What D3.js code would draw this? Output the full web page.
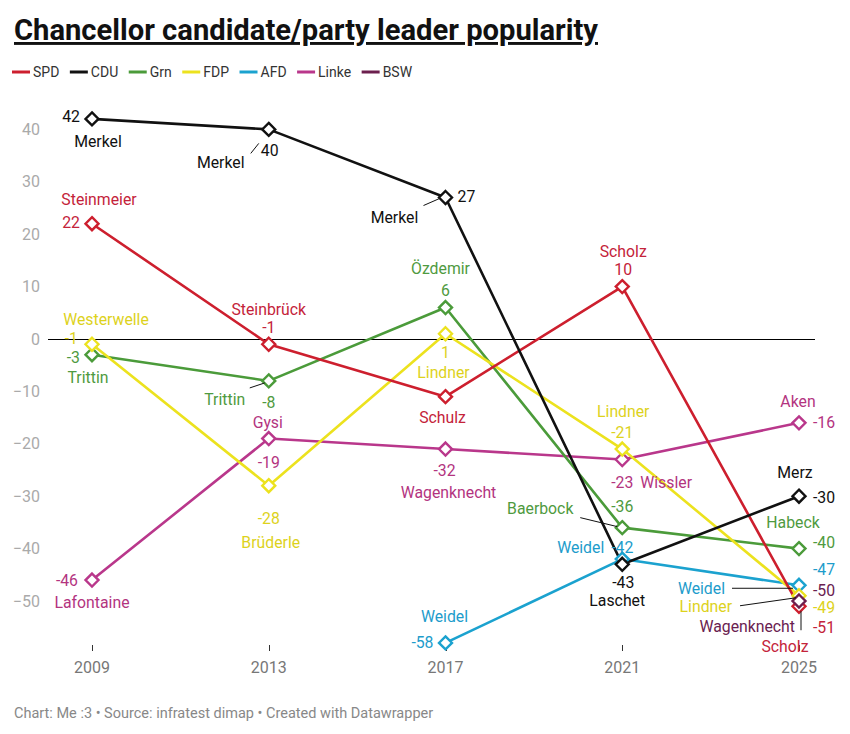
<!DOCTYPE html>
<html><head><meta charset="utf-8">
<script src="https://cdn.jsdelivr.net/npm/d3@7"></script>
<style>
body{margin:0;background:#fff;}
text{font-family:Roboto,"Noto Sans",sans-serif;}
</style>
</head><body>
<svg id="chart" width="850" height="734"></svg>
<script>
// ---------------- data ----------------
const years = [2009, 2013, 2017, 2021, 2025];
const yTicks = [40, 30, 20, 10, 0, -10, -20, -30, -40, -50];
const parties = ["SPD", "CDU", "Grn", "FDP", "AFD", "Linke", "BSW"];

const spd   = [22, -1, -11, 10, -51];
const cdu   = [42, 40, 27, -43, -30];
const grn   = [-3, -8, 6, -36, -40];
const fdp   = [-1, -28, 1, -21, -49];
const afd   = [null, null, -58, -42, -47];
const linke = [-46, -19, -21, -23, -16];
const bsw   = [null, null, null, null, -50];

const spdNames   = ["Steinmeier", "Steinbrück", "Schulz", "Scholz", "Scholz"];
const cduNames   = ["Merkel", "Merkel", "Merkel", "Laschet", "Merz"];
const grnNames   = ["Trittin", "Trittin", "Özdemir", "Baerbock", "Habeck"];
const fdpNames   = ["Westerwelle", "Brüderle", "Lindner", "Lindner", "Lindner"];
const afdNames   = [null, null, "Weidel", "Weidel", "Weidel"];
const linkeNames = ["Lafontaine", "Gysi", "Wagenknecht", "Wissler", "Aken"];
const bswNames   = [null, null, null, null, "Wagenknecht"];

// value labels as printed in the original (Linke 2017 printed as -32)
const spdLabels   = ["22", "-1", null, "10", "-51"];
const cduLabels   = ["42", "40", "27", "-43", "-30"];
const grnLabels   = ["-3", "-8", "6", "-36", "-40"];
const fdpLabels   = ["-1", "-28", "1", "-21", "-49"];
const afdLabels   = [null, null, "-58", "-42", "-47"];
const linkeLabels = ["-46", "-19", "-32", "-23", "-16"];
const bswLabels   = [null, null, null, null, "-50"];

const title = "Chancellor candidate/party leader popularity";
const footer = "Chart: Me :3 • Source: infratest dimap • Created with Datawrapper";

// ---------------- styling / layout ----------------
const colors = {SPD:"#cd1f2e", CDU:"#111111", Grn:"#4b9b3a", FDP:"#ece21e", AFD:"#1ba2cf", Linke:"#b9378b", BSW:"#6c1f4e"};
const textColors = {SPD:"#c4233a", CDU:"#111111", Grn:"#4f9a40", FDP:"#ddd21c", AFD:"#1d9ccb", Linke:"#b3347f", BSW:"#6a2150"};
const seriesData = {SPD:[spd,spdNames,spdLabels], CDU:[cdu,cduNames,cduLabels], Grn:[grn,grnNames,grnLabels],
  FDP:[fdp,fdpNames,fdpLabels], AFD:[afd,afdNames,afdLabels], Linke:[linke,linkeNames,linkeLabels], BSW:[bsw,bswNames,bswLabels]};

// label placement: [party, yearIndex, value dx, dy, anchor, name dx, dy, anchor, leader]
const place = [
  ["CDU",0,-12,-2,"end", 6,23,"middle"],
  ["CDU",1,1,21,"middle", -48,33,"middle",[-18,24,-10,14]],
  ["CDU",2,12,-1,"start", -51,20,"middle",[-22,8,-6,1]],
  ["CDU",3,1,18,"middle", -5,36,"middle"],
  ["CDU",4,14,1,"start", -4,-24,"middle"],
  ["SPD",0,-12,-1,"end", 7,-24,"middle"],
  ["SPD",1,0,-17,"middle", 0,-35,"middle"],
  ["SPD",2,0,0,"middle", -3,21,"middle"],
  ["SPD",3,1,-17,"middle", 1,-35,"middle"],
  ["SPD",4,14,21,"start", -14,40,"middle",[2,5,2,24]],
  ["Grn",0,-12,3,"end", -4,23,"middle"],
  ["Grn",1,0,22,"middle", -44,19,"middle",[-19,7,-4,2]],
  ["Grn",2,0,-17,"middle", -5,-39,"middle"],
  ["Grn",3,0,-21,"middle", -82,-19,"middle",[-42,-10,-5,-1]],
  ["Grn",4,14,-6,"start", -6,-26,"middle"],
  ["FDP",0,-14,-6,"end", 14,-25,"middle"],
  ["FDP",1,0,33,"middle", 2,57,"middle"],
  ["FDP",2,0,19,"middle", -2,39,"middle"],
  ["FDP",3,0,-17,"middle", 1,-38,"middle"],
  ["FDP",4,14,12,"start", -67,11,"end",[-59,10,-3,2]],
  ["AFD",2,-12,0,"end", -1,-26,"middle"],
  ["AFD",3,0,-12,"middle", -18,-12,"end"],
  ["AFD",4,14,-16,"start", -74,3,"end",[-67,3,-6,3]],
  ["Linke",0,-14,0,"end", 0,22,"middle"],
  ["Linke",1,0,24,"middle", -1,-16,"middle"],
  ["Linke",2,-1,21,"middle", 3,43,"middle"],
  ["Linke",3,0,23,"middle", 18,23,"start"],
  ["Linke",4,14,0,"start", -1,-21,"middle"],
  ["BSW",4,14,-11,"start", -4,25,"end"]
];

const svg = d3.select("#chart");
const x = d3.scaleLinear().domain([2009, 2025]).range([92, 799]);
const y = d3.scaleLinear().domain([-50, 40]).range([601, 129.4]);

// title
svg.append("text").attr("x", 14).attr("y", 40).attr("font-size", 29).attr("font-weight", 700)
  .attr("text-decoration", "underline").attr("fill", "#111")
  .attr("textLength", 584).attr("lengthAdjust", "spacingAndGlyphs").text(title);

// legend
let lx = 12;
parties.forEach(p => {
  svg.append("line").attr("x1", lx).attr("x2", lx + 18).attr("y1", 72).attr("y2", 72)
    .attr("stroke", colors[p]).attr("stroke-width", 3);
  const t = svg.append("text").attr("x", lx + 21).attr("y", 72).attr("dy", "0.35em")
    .attr("font-size", 14).attr("fill", "#333").text(p);
  lx += 21 + t.node().getComputedTextLength() + 10.5;
});

// y axis tick labels
const fmt = v => v < 0 ? "\u2212" + Math.abs(v) : String(v);
svg.append("g").selectAll("text").data(yTicks).join("text")
  .attr("x", 40).attr("y", d => y(d)).attr("dy", "0.35em").attr("text-anchor", "end")
  .attr("font-size", 16).attr("fill", "#aaa").text(fmt);

// zero line
svg.append("line").attr("x1", 48).attr("x2", 815).attr("y1", Math.round(y(0)) + 0.5).attr("y2", Math.round(y(0)) + 0.5)
  .attr("stroke", "#000").attr("stroke-width", 1);

// x axis
const xa = svg.append("g");
xa.selectAll("line").data(years).join("line")
  .attr("x1", d => Math.round(x(d)) + 0.5).attr("x2", d => Math.round(x(d)) + 0.5).attr("y1", 645).attr("y2", 651)
  .attr("stroke", "#333").attr("stroke-width", 1);
xa.selectAll("text").data(years).join("text")
  .attr("x", d => x(d)).attr("y", 667).attr("dy", "0.35em").attr("text-anchor", "middle")
  .attr("font-size", 16).attr("fill", "#777").text(d => d);

// lines
const lineGen = d3.line().defined(d => d.v !== null).x(d => x(d.yr)).y(d => y(d.v));
const drawOrder = ["Linke", "AFD", "Grn", "FDP", "SPD", "CDU", "BSW"];
drawOrder.forEach(p => {
  const vals = seriesData[p][0];
  const pts = years.map((yr, i) => ({yr, v: vals[i]}));
  svg.append("path").datum(pts).attr("d", lineGen).attr("fill", "none")
    .attr("stroke", colors[p]).attr("stroke-width", 2.6).attr("stroke-linejoin", "round");
});

// markers
const diamond = r => `M0,${-r}L${r},0L0,${r}L${-r},0Z`;
drawOrder.forEach(p => {
  const vals = seriesData[p][0];
  const pts = years.map((yr, i) => ({yr, v: vals[i]})).filter(d => d.v !== null);
  svg.append("g").selectAll("path").data(pts).join("path")
    .attr("d", diamond(6.5)).attr("transform", d => `translate(${x(d.yr)},${y(d.v)})`)
    .attr("fill", "#fff").attr("stroke", colors[p]).attr("stroke-width", 2.4);
});

// labels
const lg = svg.append("g");
place.forEach(([p, i, vdx, vdy, va, ndx, ndy, na, leader]) => {
  const [vals, names, labels] = seriesData[p];
  const px = x(years[i]), py = y(vals[i]);
  if (leader) {
    lg.append("line").attr("x1", px + leader[0]).attr("y1", py + leader[1])
      .attr("x2", px + leader[2]).attr("y2", py + leader[3])
      .attr("stroke", "#111").attr("stroke-width", 1);
  }
  if (labels[i] !== null) {
    lg.append("text").attr("x", px + vdx).attr("y", py + vdy).attr("dy", "0.35em")
      .attr("text-anchor", va).attr("font-size", 15.8).attr("fill", textColors[p]).text(labels[i]);
  }
  if (names[i] !== null) {
    lg.append("text").attr("x", px + ndx).attr("y", py + ndy).attr("dy", "0.35em")
      .attr("text-anchor", na).attr("font-size", 15.8).attr("fill", textColors[p]).text(names[i]);
  }
});

// footer
svg.append("text").attr("x", 14).attr("y", 713).attr("dy", "0.35em")
  .attr("font-size", 14.5).attr("fill", "#888").text(footer);
</script>
</body></html>
